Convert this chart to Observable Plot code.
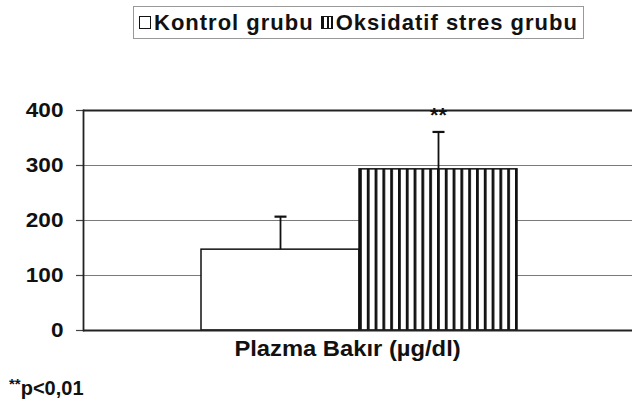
<!DOCTYPE html>
<html>
<head>
<meta charset="utf-8">
<script src="https://cdn.jsdelivr.net/npm/d3@7"></script>
<script src="https://cdn.jsdelivr.net/npm/@observablehq/plot@0.6"></script>
<style>
  html, body { margin: 0; padding: 0; background: #fff; }
  body { width: 632px; height: 414px; overflow: hidden; position: relative;
         font-family: "Liberation Sans", Arial, sans-serif; font-weight: bold; color: #111; }
  #legend { position: absolute; left: 133px; top: 6px; width: 449px; height: 31px;
            border: 1.5px solid #999; display: flex; align-items: center; box-sizing: content-box;
            font-size: 22px; letter-spacing: 1px; white-space: nowrap; }
  .sw { display: inline-block; width: 10px; height: 11px; border: 1.5px solid #111; margin: 0 3px 0 5px; flex: none; }
  .sw.white { background: #fff; }
  .sw.stripe { background: repeating-linear-gradient(90deg, #111 0 2.4px, #fff 2.4px 4.5px); }
  #note { position: absolute; left: 9px; top: 375px; font-size: 20px; }
  #note sup { font-size: 15px; vertical-align: 6px; }
  #chart { position: absolute; left: 0; top: 0; }
</style>
</head>
<body>
<div id="chart"></div>
<div id="legend"></div>
<div id="note"></div>
<script>
// ---- data ----
const groups = ["Kontrol grubu", "Oksidatif stres grubu"];
const means = [147, 293];
const sds = [60, 68];
const sigMarks = ["", "**"];
const yTicks = [0, 100, 200, 300, 400];
const xTitle = "Plazma Bakır (µg/dl)";
const footnoteStars = "**";
const footnoteText = "p<0,01";

const data = groups.map((g, i) => ({group: g, mean: means[i], upper: means[i] + sds[i], sig: sigMarks[i]}));

const capSymbol = {
  draw(context, size) {
    const h = 6;
    context.moveTo(-h, 0);
    context.lineTo(h, 0);
  }
};

const chart = Plot.plot({
  width: 632,
  height: 414,
  marginTop: 110,
  marginBottom: 84,
  marginLeft: 83,
  marginRight: -3,
  style: {fontFamily: "'Liberation Sans', Arial, sans-serif", fontWeight: "bold", color: "#111", background: "white", overflow: "visible"},
  x: {domain: groups, paddingInner: 0, paddingOuter: 0.74, axis: null},
  y: {domain: [0, 400], axis: null},
  marks: [
    Plot.gridY([100, 200, 300], {stroke: "#7a7a7a", strokeOpacity: 1, strokeWidth: 1.2}),
    Plot.ruleY([400], {stroke: "#222", strokeWidth: 1.8}),
    Plot.barY(data.filter(d => d.group === groups[0]), {x: "group", y: "mean", fill: "white", stroke: "#111", strokeWidth: 1.5}),
    Plot.barY(data.filter(d => d.group === groups[1]), {x: "group", y: "mean", fill: "url(#vstripes)", stroke: "#111", strokeWidth: 1.5}),
    Plot.ruleX(data, {x: "group", y1: "mean", y2: "upper", stroke: "#111", strokeWidth: 1.8}),
    Plot.dot(data, {x: "group", y: "upper", symbol: capSymbol, r: 6, stroke: "#111", strokeWidth: 2.2, fill: "none"}),
    Plot.text(data, {x: "group", y: 400, text: "sig", dy: 5, fontSize: 20, fontWeight: "bold", fill: "#111"}),
    Plot.ruleY([0], {stroke: "#222", strokeWidth: 2}),
    Plot.axisY({ticks: yTicks, tickSize: 7, tickPadding: 13, fontSize: 20, fontWeight: "bold", label: null, stroke: "#444", strokeWidth: 1.2}),
    Plot.frame({anchor: "left", stroke: "#222", strokeWidth: 1.8}),
    Plot.text([xTitle], {frameAnchor: "bottom", lineAnchor: "top", dy: 10, dx: -12, fontSize: 22, fontWeight: "bold", fill: "#111"})
  ]
});

// stripe pattern for the oxidative stress bar
const xs = chart.scale("x");
const left = xs.apply(groups[1]);
const svg = d3.select(chart);
const defs = svg.insert("defs", ":first-child");
const pat = defs.append("pattern")
  .attr("id", "vstripes")
  .attr("patternUnits", "userSpaceOnUse")
  .attr("x", left)
  .attr("y", 0)
  .attr("width", 7.8)
  .attr("height", 10);
pat.append("rect").attr("width", 7.8).attr("height", 10).attr("fill", "white");
pat.append("rect").attr("width", 2.8).attr("height", 10).attr("fill", "#111");

document.getElementById("chart").appendChild(chart);

// widen glyphs slightly, as in the (horizontally stretched) original
function stretch(sel, k) {
  sel.each(function () {
    const L = this.getComputedTextLength();
    this.setAttribute("textLength", L * k);
    this.setAttribute("lengthAdjust", "spacingAndGlyphs");
  });
}
stretch(svg.selectAll("g[aria-label='y-axis tick label'] text"), 1.13);
stretch(svg.selectAll("g[aria-label='text'] text"), 1.08);

// legend
const legend = document.getElementById("legend");
groups.forEach((g, i) => {
  const sw = document.createElement("span");
  sw.className = "sw " + (i === 0 ? "white" : "stripe");
  if (i > 0) sw.style.marginLeft = "7px";
  legend.appendChild(sw);
  const t = document.createElement("span");
  t.textContent = g;
  legend.appendChild(t);
});

// footnote
const note = document.getElementById("note");
const sup = document.createElement("sup");
sup.textContent = footnoteStars;
note.appendChild(sup);
note.appendChild(document.createTextNode(footnoteText));
</script>
</body>
</html>
